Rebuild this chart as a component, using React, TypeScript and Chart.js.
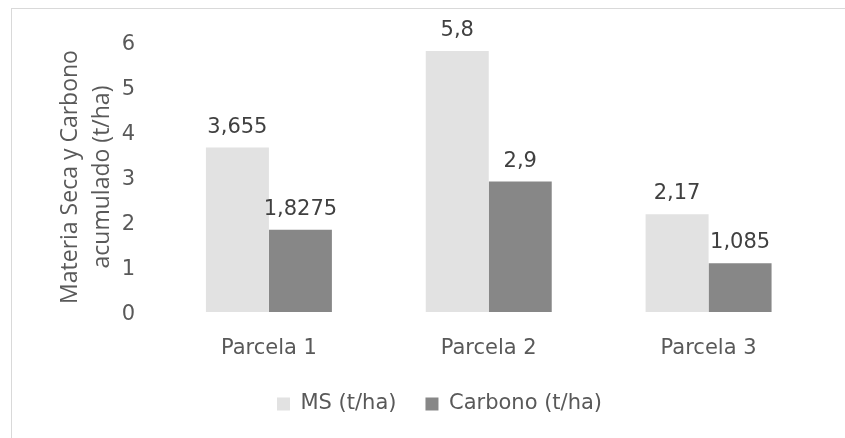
import React, { useEffect, useRef } from "react";
import { Chart, registerables } from "chart.js";

Chart.register(...registerables);

const categories = ["Parcela 1", "Parcela 2", "Parcela 3"];
const msValues = [3.655, 5.8, 2.17];
const carbonoValues = [1.8275, 2.9, 1.085];
const seriesNames = ["MS (t/ha)", "Carbono (t/ha)"];
const yTitle = ["Materia Seca y Carbono", "acumulado (t/ha)"];

const FONT = "'DejaVu Sans', sans-serif";
const FS = 21;

const valueLabels = {
  id: "valueLabels",
  afterDatasetsDraw(chart: any) {
    const ctx = chart.ctx;
    ctx.save();
    ctx.font = `${FS}px ${FONT}`;
    ctx.fillStyle = "#404040";
    ctx.textAlign = "center";
    ctx.textBaseline = "alphabetic";
    chart.data.datasets.forEach((ds: any, i: number) => {
      const meta = chart.getDatasetMeta(i);
      meta.data.forEach((bar: any, j: number) => {
        const txt = String(ds.data[j]).replace(".", ",");
        ctx.fillText(txt, bar.x, bar.y - 15);
      });
    });
    ctx.restore();
  },
};

export default function App() {
  const ref = useRef<HTMLCanvasElement>(null);
  useEffect(() => {
    if (!ref.current) return;
    const chart = new Chart(ref.current, {
      type: "bar",
      data: {
        labels: categories,
        datasets: [
          {
            label: seriesNames[0],
            data: msValues,
            backgroundColor: "#e2e2e2",
            borderWidth: 0,
          },
          {
            label: seriesNames[1],
            data: carbonoValues,
            backgroundColor: "#878787",
            borderWidth: 0,
          },
        ],
      },
      options: {
        animation: false,
        responsive: false,
        maintainAspectRatio: false,
        layout: { padding: { left: 34, right: 0, top: 42, bottom: 13.5 } },
        datasets: { bar: { barPercentage: 1, categoryPercentage: 0.573 } },
        plugins: {
          legend: {
            position: "bottom",
            labels: {
              font: { family: FONT, size: FS },
              color: "#595959",
              boxWidth: 13,
              boxHeight: 13,
              padding: 29,
            },
          },
          tooltip: { enabled: false },
        },
        scales: {
          x: {
            grid: { display: false },
            border: { display: false },
            ticks: {
              font: { family: FONT, size: FS },
              color: "#595959",
              padding: 16.3,
            },
            afterFit: (s: any) => {
              s.height = 52.5;
            },
          },
          y: {
            min: 0,
            max: 6,
            grid: { display: false },
            border: { display: false },
            ticks: {
              stepSize: 1,
              font: { family: FONT, size: FS },
              color: "#595959",
              padding: 16,
              labelOffset: 3,
            },
            title: {
              display: true,
              text: yTitle,
              font: { family: "'Open Sans', sans-serif", size: 23, lineHeight: 1.38 },
              color: "#595959",
              padding: { top: 20.5, bottom: 0 },
            },
            afterFit: (s: any) => {
              s.width = 125;
            },
          },
          yr: {
            position: "right",
            display: true,
            grid: { display: false },
            border: { display: false },
            ticks: { display: false },
            afterFit: (s: any) => {
              s.width = 26.5;
            },
          },
        },
      },
      plugins: [valueLabels],
    });
    return () => chart.destroy();
  }, []);

  return (
    <div
      style={{
        position: "absolute",
        left: 0,
        top: 0,
        width: 845,
        height: 438,
        background: "#fff",
        overflow: "hidden",
      }}
    >
      <div
        style={{
          position: "absolute",
          left: 11,
          top: 8,
          right: -2,
          bottom: -2,
          borderLeft: "1px solid #d9d9d9",
          borderTop: "1px solid #d9d9d9",
        }}
      />
      <canvas ref={ref} width={845} height={438} style={{ position: "absolute", left: 0, top: 0 }} />
    </div>
  );
}
